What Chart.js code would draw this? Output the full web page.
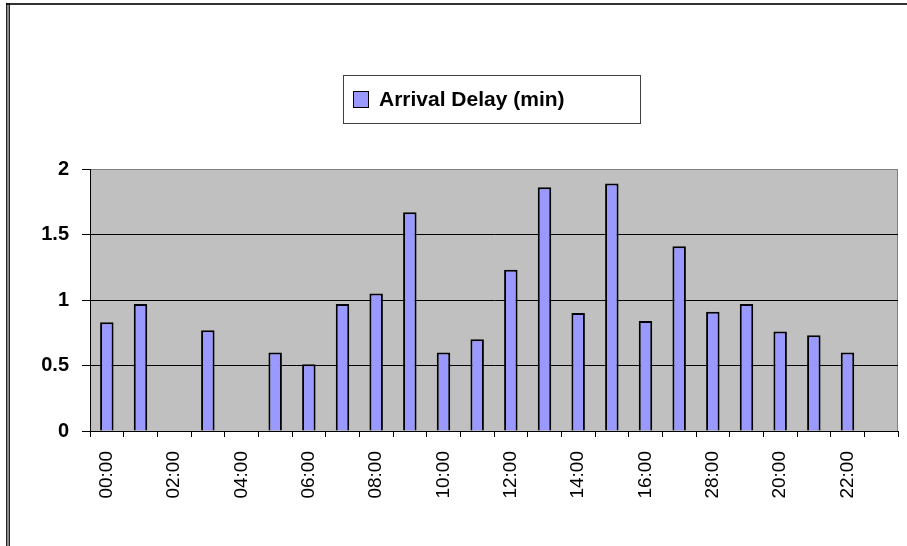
<!DOCTYPE html>
<html>
<head>
<meta charset="utf-8">
<script src="https://cdn.jsdelivr.net/npm/chart.js@4/dist/chart.umd.min.js"></script>
<style>
  html, body { margin: 0; padding: 0; background: #ffffff; }
  #wrap { width: 907px; height: 546px; position: relative; }
</style>
</head>
<body>
<div id="wrap"><canvas id="c" width="907" height="546"></canvas></div>
<script>
// ---- data ----
const categories = ['00:00','01:00','02:00','03:00','04:00','05:00','06:00','07:00',
                    '08:00','09:00','10:00','11:00','12:00','13:00','14:00','15:00',
                    '16:00','17:00','28:00','19:00','20:00','21:00','22:00','23:00'];
const arrivalDelay = [0.83, 0.97, null, 0.77, null, 0.60, 0.51, 0.97,
                      1.05, 1.67, 0.60, 0.70, 1.23, 1.86, 0.90, 1.89,
                      0.84, 1.41, 0.91, 0.97, 0.76, 0.73, 0.60, null];
const seriesName = 'Arrival Delay (min)';
const yTicks = [0, 0.5, 1, 1.5, 2];

const FONT = '"Liberation Sans", Arial, sans-serif';

const frame = {
  id: 'frame',
  beforeDraw(chart) {
    const { ctx, chartArea: a } = chart;
    ctx.save();
    ctx.fillStyle = '#ffffff';
    ctx.fillRect(0, 0, chart.width, chart.height);
    ctx.fillStyle = '#c0c0c0';
    ctx.fillRect(a.left, a.top, a.right - a.left, a.bottom - a.top);
    ctx.strokeStyle = '#808080';
    ctx.lineWidth = 1;
    ctx.strokeRect(a.left + 0.5, a.top + 0.5, a.right - a.left - 1, a.bottom - a.top);
    ctx.restore();
  },
  afterDraw(chart) {
    const { ctx } = chart;
    ctx.save();
    // outer border: top line and double left line
    ctx.strokeStyle = '#333333';
    ctx.lineWidth = 2;
    ctx.beginPath();
    ctx.moveTo(6, 4); ctx.lineTo(chart.width, 4);
    ctx.stroke();
    ctx.strokeStyle = '#000000';
    ctx.lineWidth = 1.3;
    ctx.beginPath();
    ctx.moveTo(6.8, 3); ctx.lineTo(6.8, chart.height);
    ctx.moveTo(9.2, 3); ctx.lineTo(9.2, chart.height);
    ctx.stroke();
    // legend box
    const ds = chart.data.datasets[0];
    const bx = 343.5, by = 75.5, bw = 297, bh = 48;
    ctx.fillStyle = '#ffffff';
    ctx.fillRect(bx, by, bw, bh);
    ctx.strokeStyle = '#404040';
    ctx.lineWidth = 1;
    ctx.strokeRect(bx, by, bw, bh);
    ctx.fillStyle = ds.backgroundColor;
    ctx.fillRect(353.5, 91.5, 15, 16);
    ctx.strokeStyle = '#000000';
    ctx.strokeRect(353.5, 91.5, 15, 16);
    ctx.fillStyle = '#000000';
    ctx.font = 'bold 21px ' + FONT;
    ctx.textBaseline = 'middle';
    ctx.textAlign = 'left';
    ctx.fillText(ds.label, 379, 100);
    ctx.restore();
  }
};

new Chart(document.getElementById('c'), {
  type: 'bar',
  data: {
    labels: categories,
    datasets: [{
      label: seriesName,
      data: arrivalDelay,
      backgroundColor: '#9999ff',
      borderColor: '#000000',
      borderWidth: 2,
      borderSkipped: 'bottom',
      categoryPercentage: 1.0,
      barPercentage: 0.4
    }]
  },
  plugins: [frame],
  options: {
    responsive: false,
    animation: false,
    devicePixelRatio: 1,
    layout: { padding: { left: 0, top: 169, right: 9, bottom: 0 } },
    plugins: { legend: { display: false }, tooltip: { enabled: false } },
    scales: {
      x: {
        offset: true,
        afterFit(scale) { scale.height = 115; scale.paddingLeft = 0; scale.paddingRight = 0; },
        grid: { drawOnChartArea: false, drawTicks: true, tickLength: 6, tickColor: '#000000', tickWidth: 1, offset: true },
        border: { display: true, color: '#000000', width: 1 },
        ticks: {
          autoSkip: false, minRotation: 90, maxRotation: 90, padding: 14,
          color: '#000000', font: { family: FONT, size: 19 },
          callback(v, i) { return i % 2 === 0 ? categories[i] : ''; }
        }
      },
      y: {
        min: 0, max: 2,
        afterFit(scale) { scale.width = 90; scale.paddingTop = 0; scale.paddingBottom = 0; },
        afterBuildTicks(scale) { scale.ticks = yTicks.map(v => ({ value: v })); },
        grid: {
          drawTicks: true, tickLength: 8, tickColor: '#000000',
          color(ctx) { return ctx.tick && ctx.tick.value === 2 ? '#808080' : '#000000'; },
          lineWidth: 1
        },
        border: { display: true, color: '#000000', width: 1 },
        ticks: {
          padding: 13, color: '#000000',
          font: { family: FONT, size: 20, weight: 'bold' },
          callback(v) { return String(v); }
        }
      }
    }
  }
});
</script>
</body>
</html>
